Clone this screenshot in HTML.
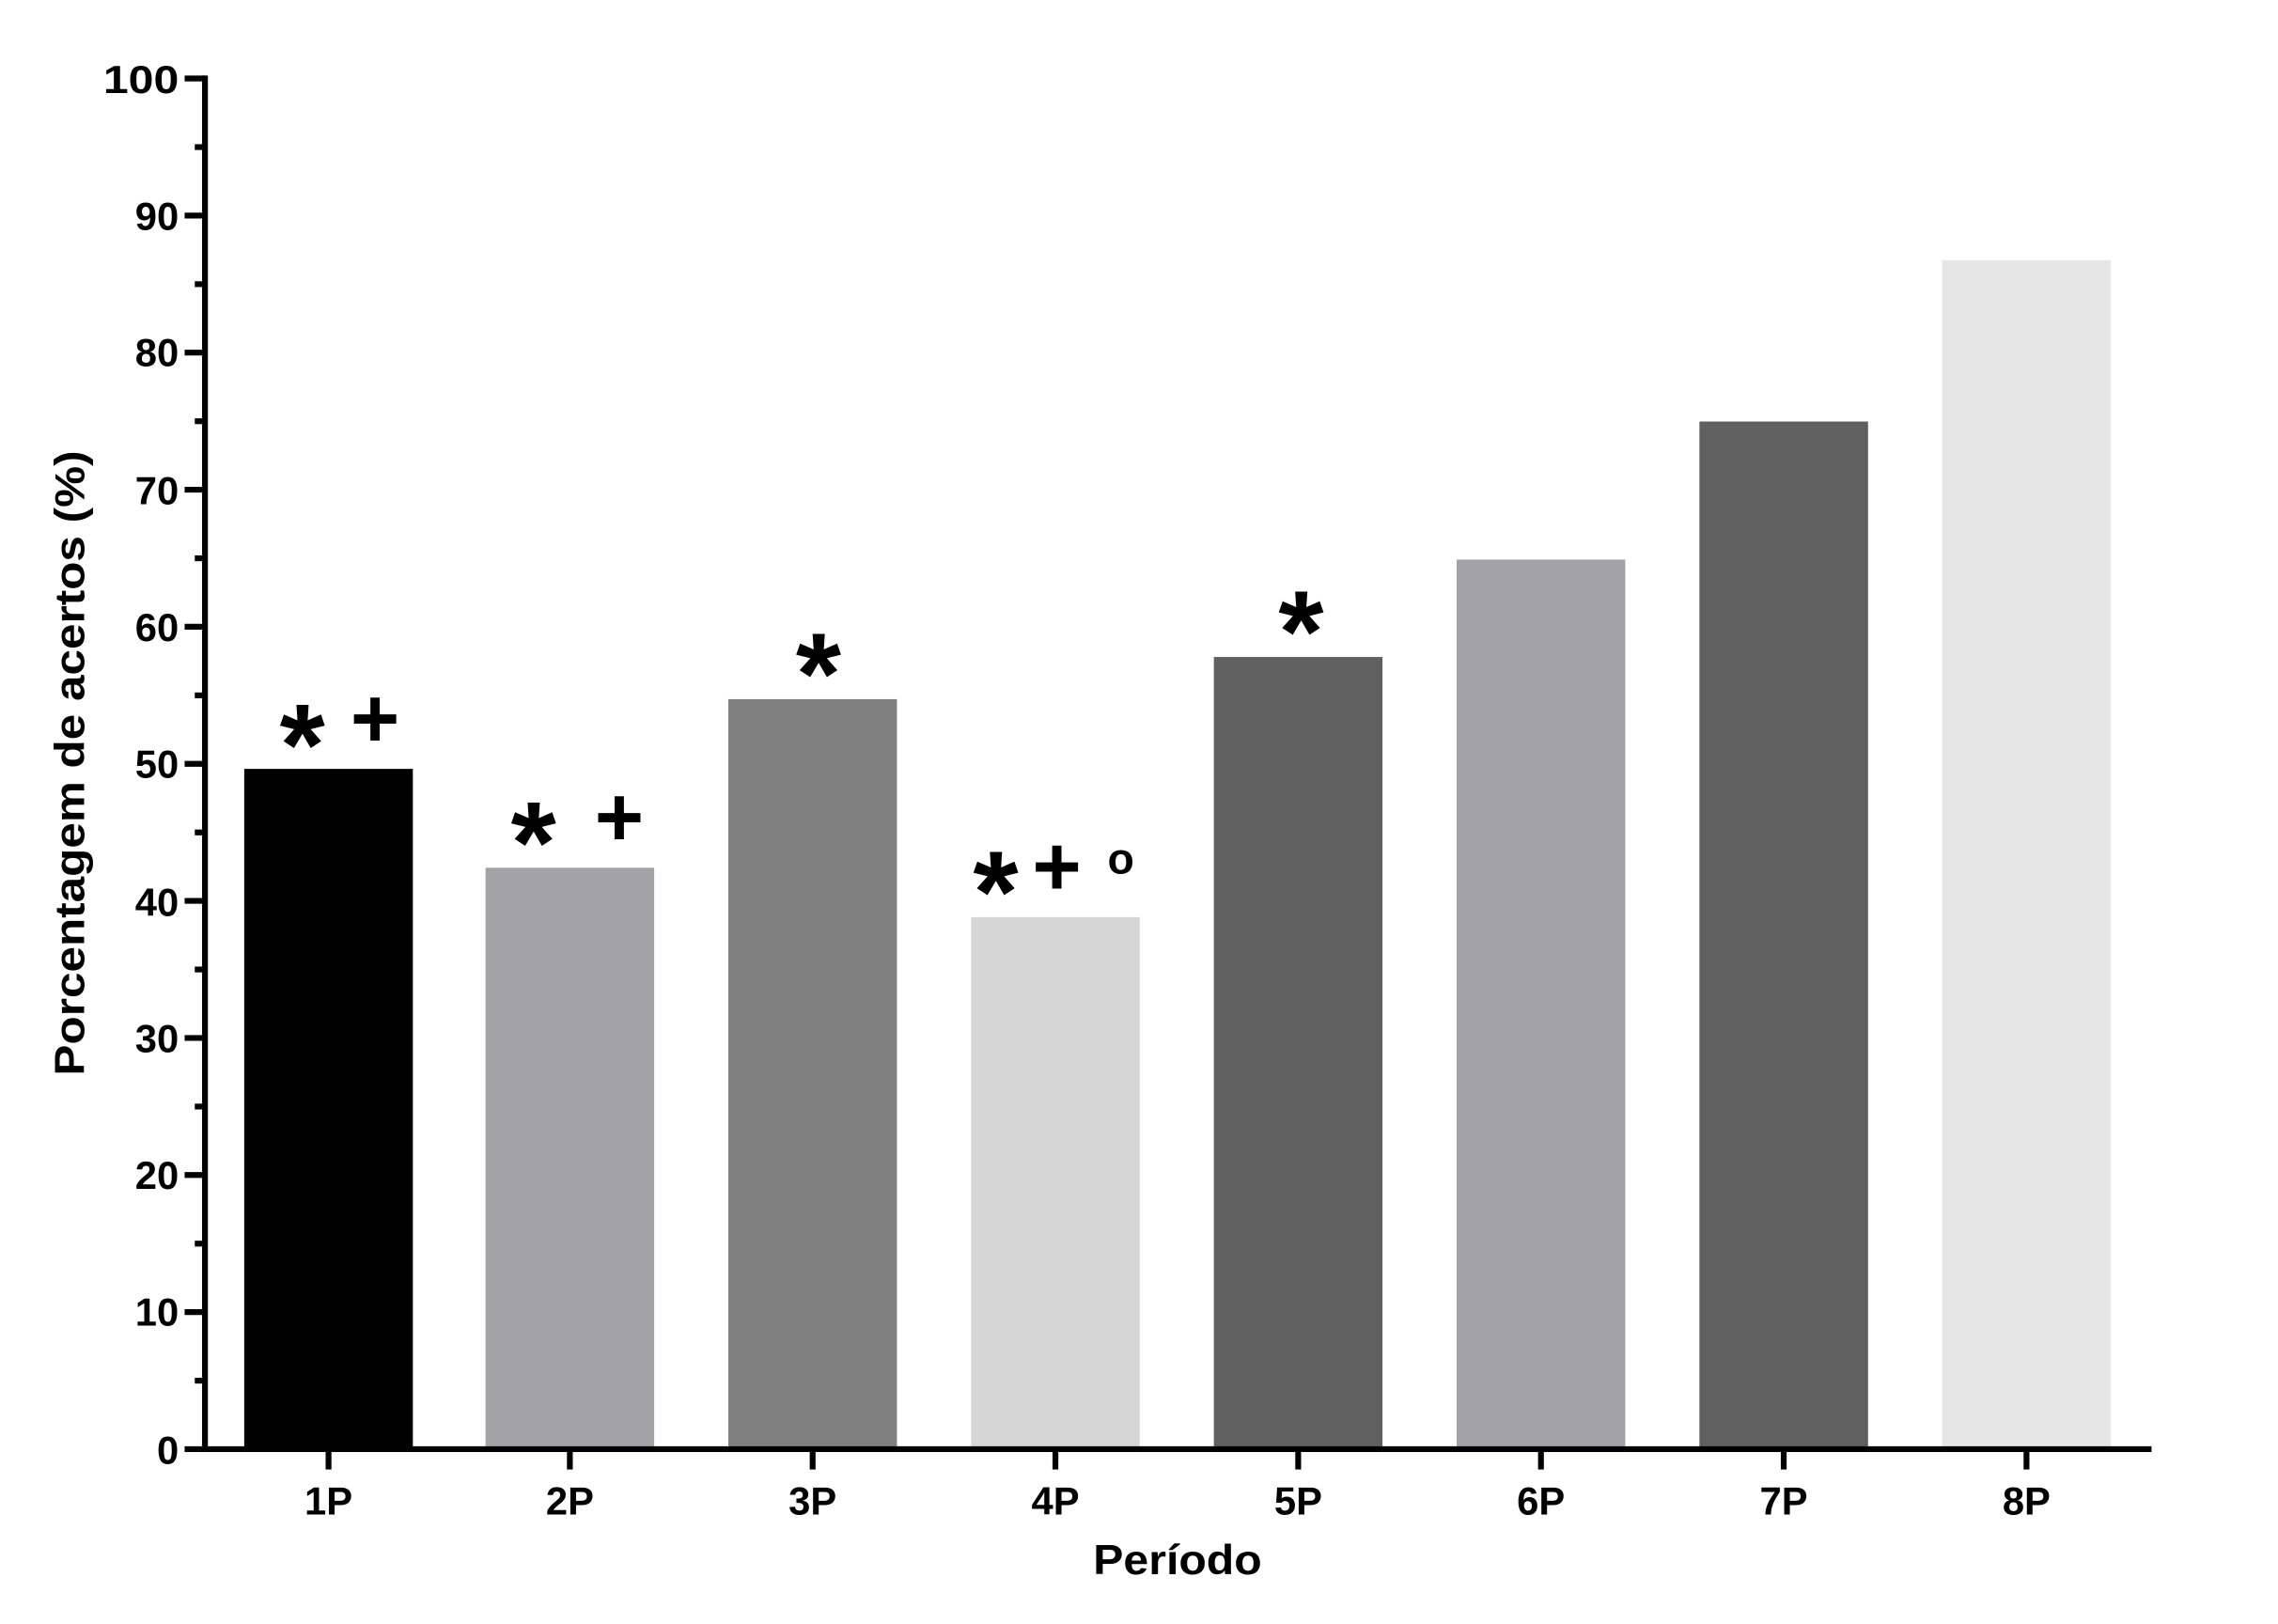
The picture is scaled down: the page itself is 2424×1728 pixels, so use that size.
<!DOCTYPE html>
<html><head><style>html,body{margin:0;padding:0;background:#fff}svg{display:block}</style></head>
<body>
<svg width="2424" height="1728" viewBox="0 0 1567 1117.3" preserveAspectRatio="none" xmlns="http://www.w3.org/2000/svg" font-family="Liberation Sans, Arial, sans-serif" font-weight="bold">
<g>
<rect x="168" y="529" width="116" height="468" fill="#000"/>
<rect x="334" y="597" width="116" height="400" fill="#a3a2a6"/>
<rect x="501" y="481" width="116" height="516" fill="#808080"/>
<rect x="668" y="631" width="116" height="366" fill="#d6d6d6"/>
<rect x="835" y="452" width="116" height="545" fill="#606060"/>
<rect x="1002" y="385" width="116" height="612" fill="#a3a2a6"/>
<rect x="1169" y="290" width="116" height="707" fill="#606060"/>
<rect x="1336" y="179" width="116" height="818" fill="#e6e6e6"/>
</g>
<g stroke="#000" stroke-width="4">
<line x1="141" y1="52" x2="141" y2="999"/>
<line x1="127" y1="997" x2="1480" y2="997"/>
<line x1="127" y1="54" x2="141" y2="54"/><line x1="127" y1="148.3" x2="141" y2="148.3"/>
<line x1="127" y1="242.6" x2="141" y2="242.6"/><line x1="127" y1="336.9" x2="141" y2="336.9"/>
<line x1="127" y1="431.2" x2="141" y2="431.2"/><line x1="127" y1="525.5" x2="141" y2="525.5"/>
<line x1="127" y1="619.8" x2="141" y2="619.8"/><line x1="127" y1="714.1" x2="141" y2="714.1"/>
<line x1="127" y1="808.4" x2="141" y2="808.4"/><line x1="127" y1="902.7" x2="141" y2="902.7"/>
<line x1="134" y1="101.2" x2="141" y2="101.2"/><line x1="134" y1="195.5" x2="141" y2="195.5"/>
<line x1="134" y1="289.8" x2="141" y2="289.8"/><line x1="134" y1="384.1" x2="141" y2="384.1"/>
<line x1="134" y1="478.4" x2="141" y2="478.4"/><line x1="134" y1="572.7" x2="141" y2="572.7"/>
<line x1="134" y1="667" x2="141" y2="667"/><line x1="134" y1="761.3" x2="141" y2="761.3"/>
<line x1="134" y1="855.6" x2="141" y2="855.6"/><line x1="134" y1="949.9" x2="141" y2="949.9"/>
<line x1="226" y1="997" x2="226" y2="1011"/><line x1="392" y1="997" x2="392" y2="1011"/>
<line x1="559" y1="997" x2="559" y2="1011"/><line x1="726" y1="997" x2="726" y2="1011"/>
<line x1="893" y1="997" x2="893" y2="1011"/><line x1="1060" y1="997" x2="1060" y2="1011"/>
<line x1="1227" y1="997" x2="1227" y2="1011"/><line x1="1394" y1="997" x2="1394" y2="1011"/>
</g>
<g font-size="27" text-anchor="end">
<text x="123" y="64" textLength="52" lengthAdjust="spacingAndGlyphs">100</text><text x="123" y="158">90</text><text x="123" y="252">80</text>
<text x="123" y="347">70</text><text x="123" y="441">60</text><text x="123" y="535">50</text>
<text x="123" y="630">40</text><text x="123" y="724">30</text><text x="123" y="818">20</text>
<text x="123" y="912">10</text><text x="123" y="1007">0</text>
</g>
<g font-size="27" text-anchor="middle">
<text x="226" y="1042">1P</text><text x="392" y="1042">2P</text><text x="559" y="1042">3P</text>
<text x="726" y="1042">4P</text><text x="893" y="1042">5P</text><text x="1060" y="1042">6P</text>
<text x="1227" y="1042">7P</text><text x="1394" y="1042">8P</text>
</g>
<text x="810" y="1083" font-size="29" text-anchor="middle" textLength="116" lengthAdjust="spacingAndGlyphs">Período</text>
<text transform="translate(58,525) rotate(-90)" font-size="29" text-anchor="middle" textLength="430" lengthAdjust="spacingAndGlyphs">Porcentagem de acertos (%)</text>
<g font-size="80" text-anchor="middle">
<text x="208" y="540">*</text><text x="367" y="607">*</text><text x="563" y="491">*</text>
<text x="685" y="641">*</text><text x="895" y="462">*</text>
</g>
<g font-size="58" text-anchor="middle">
<text x="258" y="514">+</text><text x="426" y="582">+</text><text x="727" y="616">+</text>
</g>
<text x="771" y="601" font-size="30" text-anchor="middle">o</text>
</svg>
</body></html>
